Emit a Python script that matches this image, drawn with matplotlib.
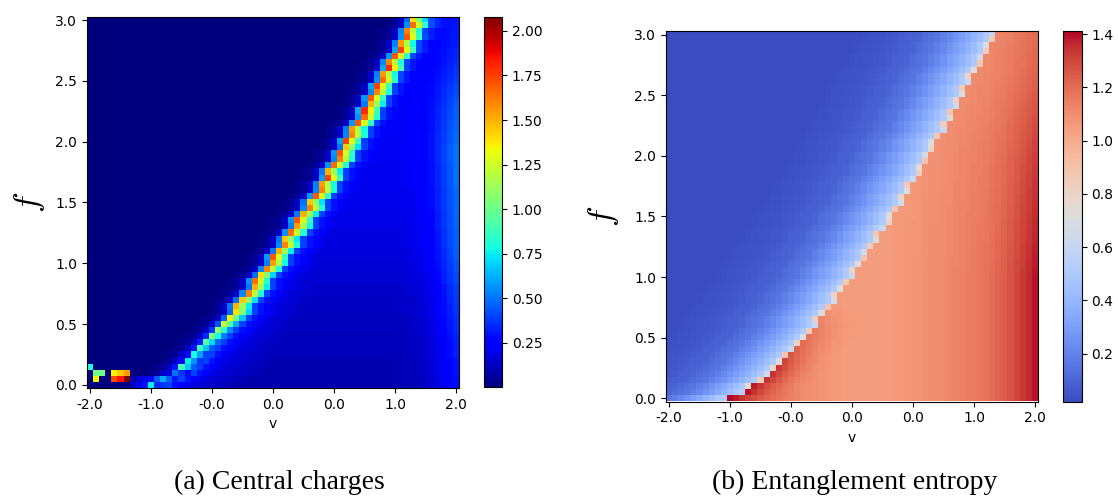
import numpy as np
import matplotlib
matplotlib.use("Agg")
import matplotlib.pyplot as plt

plt.rcParams["mathtext.fontset"] = "cm"

N = 61  # grid points along v and along f

# axis ticks (grid indices) and their labels
tick_index = [0, 10, 20, 30, 40, 50, 60]
v_tick_labels = ["-2.0", "-1.0", "-0.0", "0.0", "0.0", "1.0", "2.0"]
f_tick_labels = ["0.0", "0.5", "1.0", "1.5", "2.0", "2.5", "3.0"]

c_ticks = [0.25, 0.50, 0.75, 1.00, 1.25, 1.50, 1.75, 2.00]
s_ticks = [0.2, 0.4, 0.6, 0.8, 1.0, 1.2, 1.4]

# ---------------- central charge data ----------------
# column of the critical ridge for every f row (bottom to top)
ridge_col = [10, 12, 14, 15, 16, 17, 18, 19, 20, 21,
             22, 23, 24, 24, 25, 26, 27, 27, 28, 29,
             30, 30, 31, 32, 32, 33, 34, 34, 35, 36,
             36, 37, 38, 38, 39, 39, 40, 41, 41, 42,
             42, 43, 43, 44, 45, 45, 46, 46, 47, 47,
             48, 48, 49, 49, 50, 51, 51, 52, 52, 53, 53]

# central charge on the ridge for every row
ridge_peak = [0.75, 0.62, 0.5, 0.9, 0.75, 0.8, 0.9, 0.95, 1.05, 1.1,
              1.25, 1.35, 1.4, 1.5, 1.45, 1.6, 1.5, 1.65, 1.4, 1.6,
              1.55, 1.7, 1.5, 1.6, 1.45, 1.65, 1.55, 1.7, 1.5, 1.6,
              1.45, 1.7, 1.6, 1.55, 1.75, 1.5, 1.65, 1.6, 1.7, 1.45,
              1.75, 1.6, 1.55, 1.7, 1.65, 1.8, 1.5, 1.7, 1.6, 1.75,
              1.65, 1.55, 1.8, 1.6, 1.7, 1.75, 1.55, 1.7, 1.6, 1.65, 1.4]

# shape of the ridge: relative neighbours, then absolute tails
ridge_rel_left = 0.34
ridge_rel_right = [0.75, 0.5]
tail_left = [0.14, 0.05, 0.02, 0.01]
tail_right = [0.4, 0.3, 0.24, 0.2, 0.18, 0.16, 0.15, 0.14, 0.13, 0.12, 0.11, 0.1]
c_floor = 0.003

# background level on the gapless side, per row
bg_row = [0.1, 0.1, 0.1, 0.1, 0.1, 0.11, 0.11, 0.11, 0.11, 0.12,
          0.12, 0.12, 0.13, 0.13, 0.13, 0.14, 0.14, 0.15, 0.15, 0.16,
          0.16, 0.17, 0.17, 0.18, 0.18, 0.18, 0.19, 0.19, 0.19, 0.2,
          0.2, 0.2, 0.2, 0.21, 0.21, 0.21, 0.21, 0.22, 0.22, 0.22] + [0.22] * 21

# raised band near v = 2
edge_col = [0.0] * 50 + [0.0, 0.005, 0.01, 0.02, 0.03, 0.05, 0.08, 0.13, 0.18, 0.23, 0.28]
edge_amp = ([0.65, 0.65, 0.7, 0.7, 0.7, 0.75, 0.75, 0.75, 0.8, 0.8,
             0.8, 0.85, 0.85, 0.85, 0.9, 0.9, 0.9, 0.95, 0.95, 0.95]
            + [1.0] * 20
            + [0.95, 0.95, 0.9, 0.9, 0.85, 0.85, 0.8, 0.75, 0.7, 0.65,
               0.6, 0.55, 0.5, 0.45, 0.4, 0.4, 0.35, 0.35, 0.3, 0.3, 0.3])

# isolated points near f = 0, v = -2: (row, col, value)
c_special = [(1, 1, 1.35), (2, 1, 1.0), (2, 2, 1.0),
             (2, 4, 1.35), (2, 5, 1.45), (2, 6, 1.55),
             (1, 4, 1.72), (1, 5, 1.85), (1, 6, 2.078),
             (3, 0, 0.8),
             (0, 7, 0.12), (0, 8, 0.2), (0, 9, 0.3), (0, 11, 0.35),
             (1, 7, 0.1), (1, 8, 0.15), (1, 9, 0.2), (1, 10, 0.25), (1, 11, 0.45)]

# ---------------- entanglement entropy data ----------------
step_col = [9, 12, 13, 15, 16, 17, 18, 19, 20, 21,
            22, 23, 24, 24, 25, 26, 27, 27, 28, 29,
            30, 30, 31, 32, 32, 33, 34, 34, 35, 36,
            36, 37, 38, 38, 39, 39, 40, 41, 41, 42,
            42, 43, 43, 44, 45, 45, 46, 46, 47, 47,
            48, 48, 49, 49, 50, 51, 51, 52, 52, 53, 53]

step_val = [0.5, 0.55, 0.75, 0.85, 0.65, 0.8, 0.7, 0.88, 0.62, 0.8,
            0.7, 0.85, 0.6, 0.82, 0.72, 0.88, 0.65, 0.8, 0.7, 0.86,
            0.62, 0.8, 0.74, 0.88, 0.66, 0.82, 0.7, 0.86, 0.62, 0.8,
            0.72, 0.88, 0.65, 0.8, 0.7, 0.86, 0.62, 0.82, 0.74, 0.88,
            0.66, 0.8, 0.7, 0.86, 0.62, 0.82, 0.72, 0.88, 0.65, 0.8,
            0.7, 0.86, 0.62, 0.8, 0.74, 0.88, 0.66, 0.82, 0.7, 0.86, 0.6]

# entropy on the low side vs. distance from the step
s_blue_near = [0.5, 0.44, 0.39, 0.34, 0.3, 0.26, 0.22, 0.19, 0.16, 0.14,
               0.12, 0.1, 0.09, 0.08, 0.07, 0.06, 0.055, 0.05, 0.045, 0.04,
               0.035, 0.03]
s_blue_far = 0.02

# entropy on the high side: per column level and per row weight
s_red_col = [1.41] * 10 + [
    1.41, 1.38, 1.34, 1.31, 1.28, 1.25, 1.22, 1.2, 1.18, 1.16,
    1.14, 1.12, 1.11, 1.1, 1.09, 1.08, 1.07, 1.06, 1.06, 1.05,
    1.05, 1.05, 1.05, 1.05, 1.05, 1.05, 1.05, 1.06, 1.06, 1.07,
    1.07, 1.08, 1.09, 1.1, 1.1, 1.11, 1.12, 1.13, 1.14, 1.15,
    1.16, 1.17, 1.18, 1.2, 1.22, 1.24, 1.27, 1.3, 1.33, 1.36, 1.39]
s_red_base = 1.05
s_red_row = [1.0] * 21 + [
    0.98, 0.97, 0.96, 0.95, 0.94, 0.93, 0.92, 0.91, 0.9, 0.89,
    0.88, 0.87, 0.86, 0.85, 0.84, 0.83, 0.82, 0.81, 0.8, 0.78,
    0.76, 0.74, 0.72, 0.7, 0.68, 0.66, 0.64, 0.62, 0.6, 0.58,
    0.56, 0.54, 0.52, 0.5, 0.49, 0.48, 0.47, 0.46, 0.45, 0.45]
s_low_boost = [0.0, 0.08, 0.1, 0.12, 0.14, 0.15, 0.14, 0.12, 0.1, 0.09,
               0.08, 0.06, 0.05, 0.04, 0.02] + [0.0] * 46
s_boost_decay = [1.0, 0.8, 0.6, 0.45, 0.3, 0.2, 0.1, 0.05]
s_corner = 1.41  # first row, one site left of the regular step

# ---------------- assemble the grids ----------------
C = np.full((N, N), c_floor)
for r in range(N):
    b, p = ridge_col[r], ridge_peak[r]
    for c in range(N):
        d = c - b
        if d == 0:
            val = p
        elif d == -1:
            val = ridge_rel_left * p
        elif d < -1:
            k = -d - 2
            val = tail_left[k] if k < len(tail_left) else c_floor
        else:
            if d <= len(ridge_rel_right):
                val = ridge_rel_right[d - 1] * p
            else:
                k = d - 3
                t = tail_right[k] if k < len(tail_right) else 0.0
                val = max(t, bg_row[r])
            val += edge_col[c] * edge_amp[r]
        C[r, c] = val
for r, c, val in c_special:
    C[r, c] = val

S = np.empty((N, N))
for r in range(N):
    b = step_col[r]
    for c in range(N):
        d = b - c
        if d > 0:
            S[r, c] = s_blue_near[d - 1] if d - 1 < len(s_blue_near) else s_blue_far
        elif d == 0:
            S[r, c] = step_val[r]
        else:
            k = -d - 1
            boost = s_low_boost[r] * (s_boost_decay[k] if k < len(s_boost_decay) else 0.0)
            S[r, c] = s_red_base + (s_red_col[c] - s_red_base) * s_red_row[r] + boost
S[0, step_col[0] + 1] = s_corner

# ---------------- figure ----------------
W, H = 1118, 498
fig = plt.figure(figsize=(W / 100, H / 100), dpi=100)


def px(x0, y_top, w, h):
    return [x0 / W, 1 - (y_top + h) / H, w / W, h / H]


def style_axes(ax):
    ax.set_xticks(tick_index)
    ax.set_xticklabels(v_tick_labels)
    ax.set_yticks(tick_index)
    ax.set_yticklabels(f_tick_labels)
    ax.tick_params(labelsize=10)
    ax.set_xlabel("v", fontsize=10)


ax1 = fig.add_axes(px(87, 17, 372, 371))
im1 = ax1.imshow(C, cmap="jet", origin="lower", aspect="auto", interpolation="nearest")
style_axes(ax1)
ax1.set_ylabel("$f$", fontsize=25, rotation=90)
ax1.yaxis.set_label_coords(-0.108, 0.5)
cax1 = fig.add_axes(px(484, 17, 18, 370))
cb1 = fig.colorbar(im1, cax=cax1, ticks=c_ticks, format="%.2f")
cb1.ax.tick_params(labelsize=10)

ax2 = fig.add_axes(px(666, 31.5, 372, 370))
im2 = ax2.imshow(S, cmap="coolwarm", origin="lower", aspect="auto", interpolation="nearest")
style_axes(ax2)
ax2.set_ylabel("$f$", fontsize=25, rotation=90)
ax2.yaxis.set_label_coords(-0.12, 0.5)
cax2 = fig.add_axes(px(1063, 31.5, 18.5, 370))
cb2 = fig.colorbar(im2, cax=cax2, ticks=s_ticks, format="%.1f")
cb2.ax.tick_params(labelsize=10)

fig.text(279 / W, 1 - 482 / H, "(a) Central charges", ha="center", va="center",
         fontsize=20, family="Liberation Serif")
fig.text(855 / W, 1 - 482 / H, "(b) Entanglement entropy", ha="center", va="center",
         fontsize=20, family="Liberation Serif")

fig.savefig("out.png", dpi=100)
